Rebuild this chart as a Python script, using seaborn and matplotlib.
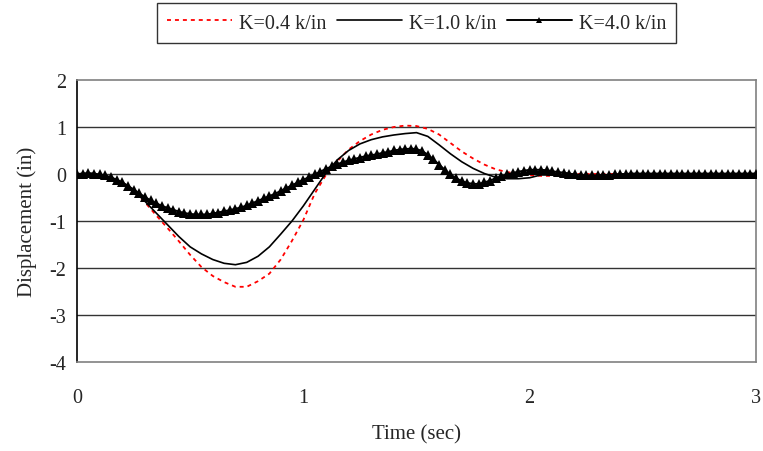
import numpy as np
import pandas as pd
import matplotlib
matplotlib.use("Agg")
import matplotlib.pyplot as plt
import seaborn as sns

# ---- data ----
t_line = np.round(np.arange(0, 3.0001, 0.05), 3)
k04 = [0.00, 0.00, -0.03, -0.08, -0.18, -0.35, -0.60, -0.88, -1.15, -1.43,
       -1.72, -1.98, -2.17, -2.30, -2.40, -2.40, -2.28, -2.12, -1.82, -1.42,
       -0.98, -0.42, -0.02, 0.27, 0.52, 0.70, 0.84, 0.94, 1.00, 1.03,
       1.02, 0.96, 0.84, 0.66, 0.48, 0.33, 0.20, 0.10, 0.04, 0.01,
       -0.02, -0.04, -0.04, -0.02, 0.00, 0.00, 0.00, 0.00, 0.00, 0.00,
       0.00, 0.00, 0.00, 0.00, 0.00, 0.00, 0.00, 0.00, 0.00, 0.00, 0.00]
k10 = [0.00, 0.00, -0.03, -0.08, -0.18, -0.35, -0.58, -0.83, -1.08, -1.33,
       -1.55, -1.70, -1.82, -1.90, -1.93, -1.88, -1.75, -1.55, -1.28, -1.00,
       -0.68, -0.33, 0.02, 0.30, 0.50, 0.64, 0.73, 0.79, 0.83, 0.86,
       0.88, 0.80, 0.62, 0.43, 0.26, 0.12, 0.01, -0.07, -0.10, -0.10,
       -0.08, -0.02, -0.02, -0.05, -0.06, -0.06, -0.06, -0.06, -0.05, -0.01,
       0.00, 0.00, 0.00, 0.00, 0.00, 0.00, 0.00, 0.00, 0.00, 0.00, 0.00]

t_mark = np.round(np.arange(0, 3.0001, 0.025), 3)
k40 = [0.00, 0.01, 0.02, 0.01, -0.01, -0.03, -0.07, -0.12, -0.18, -0.25,
       -0.33, -0.41, -0.49, -0.56, -0.62, -0.68, -0.72, -0.76, -0.80, -0.83,
       -0.85, -0.86, -0.86, -0.86, -0.84, -0.82, -0.79, -0.77, -0.74, -0.71,
       -0.67, -0.62, -0.57, -0.52, -0.47, -0.42, -0.36, -0.30, -0.24, -0.18,
       -0.12, -0.07, -0.01, 0.05, 0.11, 0.16, 0.21, 0.25, 0.29, 0.32,
       0.35, 0.38, 0.40, 0.42, 0.45, 0.47, 0.50, 0.52, 0.53, 0.54,
       0.53, 0.49, 0.41, 0.31, 0.20, 0.09, -0.01, -0.09, -0.15, -0.19,
       -0.21, -0.21, -0.18, -0.14, -0.09, -0.05, -0.01, 0.02, 0.05, 0.07,
       0.09, 0.09, 0.09, 0.08, 0.06, 0.04, 0.03, 0.01, -0.01, -0.02,
       -0.03, -0.03, -0.03, -0.02, -0.02, -0.01, 0.00, 0.00, 0.01, 0.01,
       0.01, 0.01, 0.01, 0.01, 0.01, 0.01, 0.01, 0.01, 0.01, 0.01,
       0.01, 0.01, 0.01, 0.01, 0.01, 0.01, 0.01, 0.01, 0.01, 0.01, 0.01]

labels = ["K=0.4 k/in", "K=1.0 k/in", "K=4.0 k/in"]
x_ticks = [0, 1, 2, 3]
y_ticks = [-4, -3, -2, -1, 0, 1, 2]

# ---- style ----
sns.set_style("white")
plt.rcParams["font.family"] = ["Liberation Serif", "DejaVu Serif"]

fig = plt.figure(figsize=(7.63, 4.52), dpi=100)
ax = fig.add_axes([0.1009, 0.1969, 0.8899, 0.6239])

sns.lineplot(x=t_line, y=k04, ax=ax, color="#ff0000", linestyle=(0, (2.2, 2.2)),
             linewidth=1.3, label=labels[0], zorder=3)
sns.lineplot(x=t_line, y=k10, ax=ax, color="black", linestyle="-",
             linewidth=1.2, label=labels[1], zorder=4)
sns.lineplot(x=t_mark, y=k40, ax=ax, color="black", linestyle="-",
             linewidth=1.4, marker="^", markersize=6.5, markeredgewidth=0,
             markerfacecolor="black", label=labels[2], zorder=5)

ax.set_xlim(0, 3)
ax.set_ylim(-4, 2)
ax.set_xticks(x_ticks)
ax.set_yticks(y_ticks)
ax.set_xticklabels([str(v) for v in x_ticks], fontsize=14.5)
ax.set_yticklabels([str(v) for v in y_ticks], fontsize=14.5)
ax.tick_params(axis="x", length=0, pad=19)
ax.tick_params(axis="y", length=5, width=1, color="black", pad=3, direction="out")
ax.set_xlabel("Time (sec)", fontsize=15, labelpad=12)
ax.set_ylabel("Displacement (in)", fontsize=15, labelpad=9)

for yv in y_ticks[1:-1]:
    ax.axhline(yv, color="#333333", linewidth=1.0, zorder=1)

for side in ["top", "right", "bottom"]:
    ax.spines[side].set_color("#808080")
    ax.spines[side].set_linewidth(1.2)
ax.spines["left"].set_color("black")
ax.spines["left"].set_linewidth(1.2)

handles, labs = ax.get_legend_handles_labels()
ax.get_legend().remove()
leg = fig.legend(handles, labs, loc="center", bbox_to_anchor=(0.546, 0.947),
                 ncol=3, fontsize=14.5, frameon=True, fancybox=False,
                 handlelength=3.2, handletextpad=0.35, columnspacing=0.55,
                 borderpad=0.5, markerscale=0.75)
leg.get_frame().set_edgecolor("black")
leg.get_frame().set_linewidth(1.0)

fig.savefig("out.png", dpi=100)
